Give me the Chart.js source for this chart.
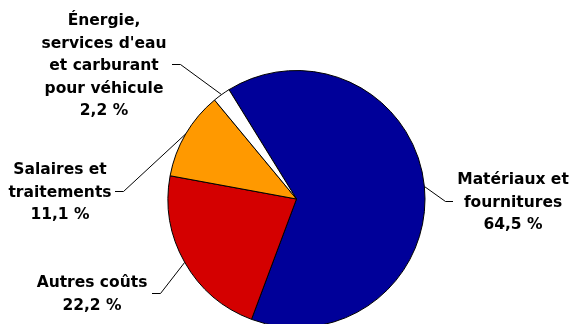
<!DOCTYPE html>
<html>
<head>
<meta charset="utf-8">
<script src="https://cdn.jsdelivr.net/npm/chart.js@4"></script>
<style>
  html, body { margin: 0; padding: 0; background: #fff; overflow: hidden; }
  #wrap { position: relative; width: 574px; height: 330px; }
</style>
</head>
<body>
<div id="wrap"><canvas id="pie"></canvas></div>
<script>
// Data
const categories = [
    ["Matériaux et", "fournitures"],
    ["Autres coûts"],
    ["Salaires et", "traitements"],
    ["Énergie,", "services d'eau", "et carburant", "pour véhicule"]
];
const shares = [64.5, 22.2, 11.1, 2.2];
const sliceColors = ["#000099", "#D40000", "#FF9900", "#FFFFFF"];

// Where each label block sits (text centre x, first line y) and the elbow of its leader line
const labelLayout = [
    { x: 513, y: 180, elbow: [445.5, 201.5], end: [453, 201.5] },
    { x: 92, y: 283, elbow: [160.5, 293.5], end: [152, 293.5] },
    { x: 60, y: 170, elbow: [123.5, 191.5], end: [115, 191.5] },
    { x: 104, y: 21, elbow: [180.5, 64.5], end: [172, 64.5] }
];

function formatShare(v) {
    return v.toFixed(1).replace(".", ",") + " %";
}

const pieLabels = {
    id: "pieLabels",
    afterDatasetsDraw(chart) {
        const ctx = chart.ctx;
        const arcs = chart.getDatasetMeta(0).data;
        ctx.save();
        ctx.font = "bold 15.5px 'DejaVu Sans'";
        ctx.fillStyle = "#000";
        ctx.strokeStyle = "#000";
        ctx.lineWidth = 1;
        ctx.textAlign = "center";
        ctx.textBaseline = "middle";
        arcs.forEach((arc, i) => {
            const p = arc.getProps(["x", "y", "startAngle", "endAngle", "outerRadius"], true);
            const mid = (p.startAngle + p.endAngle) / 2;
            const ax = p.x + Math.cos(mid) * p.outerRadius;
            const ay = p.y + Math.sin(mid) * p.outerRadius;
            const lay = labelLayout[i];

            // leader line
            ctx.beginPath();
            ctx.moveTo(ax, ay);
            ctx.lineTo(lay.elbow[0], lay.elbow[1]);
            ctx.lineTo(lay.end[0], lay.end[1]);
            ctx.stroke();

            // text block
            const lines = categories[i].concat([formatShare(shares[i])]);
            lines.forEach((line, k) => {
                ctx.fillText(line, lay.x, lay.y + k * 22.5);
            });
        });
        ctx.restore();
    }
};

new Chart(document.getElementById("pie"), {
    type: "pie",
    data: {
        labels: categories.map(c => c.join(" ")),
        datasets: [{
            data: shares,
            backgroundColor: sliceColors,
            borderColor: "#000",
            borderWidth: 1
        }]
    },
    options: {
        responsive: true,
        maintainAspectRatio: false,
        animation: false,
        rotation: -31.7,
        layout: { padding: { top: 70, bottom: 2, left: 167, right: 148 } },
        events: [],
        plugins: {
            legend: { display: false },
            tooltip: { enabled: false }
        }
    },
    plugins: [pieLabels]
});
</script>
</body>
</html>
